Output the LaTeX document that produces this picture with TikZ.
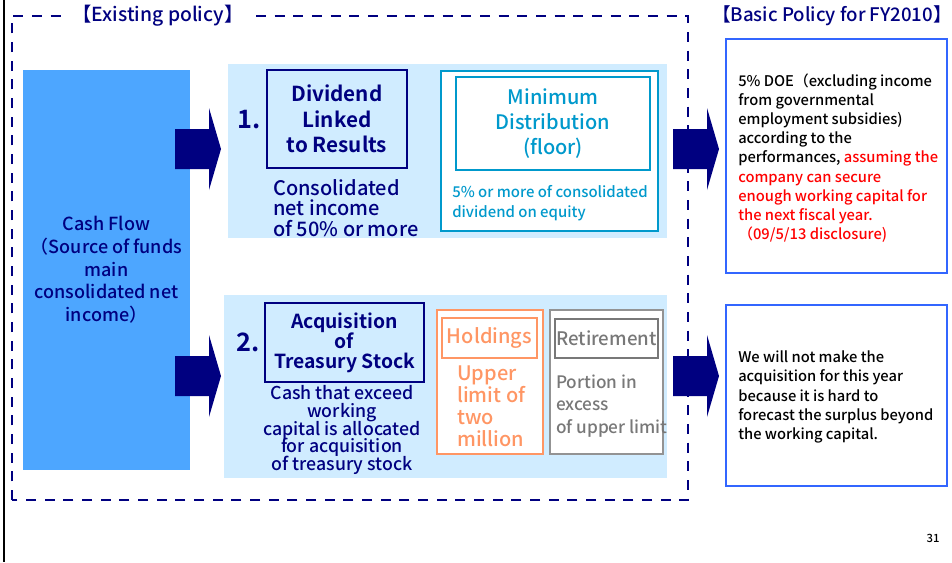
\documentclass[tikz,border=0pt]{standalone}
\usepackage{fontspec}
\setmainfont{Noto Sans CJK JP Medium}[BoldFont={Noto Sans CJK JP Bold}]

\definecolor{navyc}{RGB}{0,0,128}
\definecolor{cashblue}{RGB}{77,166,255}
\definecolor{panelblue}{RGB}{208,236,255}
\definecolor{cyanc}{RGB}{0,153,204}
\definecolor{orangec}{RGB}{255,150,100}
\definecolor{greyc}{RGB}{120,120,120}
\definecolor{boxblue}{RGB}{51,102,255}

% tamano de letra con interlineado ajustado
\newcommand\setfs[2]{\fontsize{#1}{#2}\selectfont\lineskiplimit=-10pt}

\begin{document}
\begin{tikzpicture}[x=0.75pt, y=-0.75pt,
  box/.style={inner sep=0pt, align=center, line width=2.2pt},
  thinbox/.style={draw, line width=0.8pt, fill=white},
  txt/.style={inner sep=0pt, align=left, anchor=west}]

  \useasboundingbox (0,0) rectangle (952,562);

  % Borde izquierdo de la lamina
  \draw[line width=1.5pt] (4,0) -- (4,562);

  % Marco punteado de la politica existente
  \draw[navyc, line width=2.2pt, dash pattern=on 7.5pt off 6.5pt]
    (12,500) -- (12,16) -- (688,16) -- (688,500) -- cycle;
  \node[fill=white, inner xsep=4pt, inner ysep=1pt, text=navyc, font=\setfs{14.5}{16}] (existing) at (158,16) {【Existing policy】};
  \node[text=navyc, inner sep=0pt, font=\setfs{14}{16}] (basic) at (832,16) {【Basic Policy for FY2010】};

  % Fuente de fondos
  \node[box, fill=cashblue, minimum width={167*0.75pt}, minimum height={400*0.75pt}, text=navyc,
    font=\setfs{13.5}{17}] (cash) at (106.5,270)
    {Cash Flow\\（Source of funds\\main\\consolidated net\\income）};

  % Paneles celestes
  \node[fill=panelblue, minimum width={439*0.75pt}, minimum height={174*0.75pt}] (panel1) at (447.5,151) {};
  \node[fill=panelblue, minimum width={443*0.75pt}, minimum height={183*0.75pt}] (panel2) at (445.5,386.5) {};

  % Flechas de bloque
  \foreach \ax/\ay in {175/149, 175/376, 673/149, 673/376} {
    \fill[navyc] (\ax,\ay-20) -- (\ax+34,\ay-20) -- (\ax+34,\ay-41) -- (\ax+46,\ay)
      -- (\ax+34,\ay+41) -- (\ax+34,\ay+20) -- (\ax,\ay+20) -- cycle;
  }

  % 1. Dividendo ligado a resultados
  \node[inner sep=0pt, text=navyc, font=\bfseries\setfs{19}{20}] (num1) at (249,120) {1.};
  \node[box, draw=navyc, minimum width={140*0.75pt}, minimum height={98*0.75pt}, text=navyc,
    font=\bfseries\setfs{15.5}{19}] (dividend) at (337,119)
    {Dividend\\Linked\\to Results};
  \node[txt, text=navyc, font=\setfs{15}{15.5}] (consol) at (273,208)
    {Consolidated\\net income\\of 50\% or more};

  \node[box, draw=cyanc, fill=white, minimum width={217*0.75pt}, minimum height={160*0.75pt}] (minout) at (549.5,151) {};
  \node[box, draw=cyanc, minimum width={194*0.75pt}, minimum height={93*0.75pt}, text=cyanc,
    font=\setfs{15}{19}] (minin) at (553,123.5)
    {Minimum\\Distribution\\(floor)};
  \node[txt, text=cyanc, font=\setfs{11.2}{15}] (mintxt) at (452,203)
    {5\% or more of consolidated\\dividend on equity};

  % 2. Adquisicion de acciones propias
  \node[inner sep=0pt, text=navyc, font=\bfseries\setfs{19}{20}] (num2) at (248,342) {2.};
  \node[box, draw=navyc, minimum width={159*0.75pt}, minimum height={79*0.75pt}, text=navyc,
    font=\bfseries\setfs{14.5}{15}] (acq) at (344.5,342.5)
    {Acquisition\\of\\Treasury Stock};
  \node[inner sep=0pt, align=center, text=navyc, font=\setfs{13.3}{13.2}] (cashexc) at (342,430)
    {Cash that exceed\\working\\capital is allocated\\for acquisition\\of treasury stock};

  \node[thinbox, draw=orangec, minimum width={106*0.75pt}, minimum height={144*0.75pt}] (holdout) at (490,382) {};
  \node[box, draw=orangec, minimum width={95*0.75pt}, minimum height={40*0.75pt}, text=orangec,
    font=\setfs{15}{16}] (holdin) at (489.5,338) {Holdings};
  \node[txt, text=orangec, font=\setfs{15}{16.5}] (upper) at (457,406)
    {Upper\\limit of\\two\\million};

  \node[thinbox, draw=greyc!80, minimum width={113*0.75pt}, minimum height={144*0.75pt}] (retout) at (606.5,382) {};
  \node[box, draw=greyc, minimum width={103*0.75pt}, minimum height={39*0.75pt}, text=greyc,
    font=\setfs{14}{16}] (retin) at (606.5,338.5) {Retirement};
  \node[txt, text=greyc, font=\setfs{12.9}{16.8}] (portion) at (556,406)
    {Portion in\\excess\\of upper limit};

  % Politica basica FY2010
  \node[box, draw=boxblue, fill=white, minimum width={221*0.75pt}, minimum height={234*0.75pt}] (policy1) at (836.5,156) {};
  \node[txt, font=\setfs{11.05}{14.4}] (doetxt) at (738,158)
    {5\% DOE（excluding income\\from governmental\\employment subsidies)\\according to the\\performances, \textcolor{red}{assuming the}\\
     \textcolor{red}{company can secure}\\\textcolor{red}{enough working capital for}\\\textcolor{red}{the next fiscal year.}\\\textcolor{red}{（09/5/13 disclosure)}};

  \node[box, draw=boxblue, fill=white, minimum width={221*0.75pt}, minimum height={181*0.75pt}] (policy2) at (836.5,395.5) {};
  \node[txt, font=\setfs{11.05}{14.4}] (notxt) at (738,397)
    {We will not make the\\acquisition for this year\\because it is hard to\\forecast the surplus beyond\\the working capital.};

  \node[inner sep=0pt, font=\setfs{8.5}{10}] (page) at (933,538) {31};

\end{tikzpicture}
\end{document}
